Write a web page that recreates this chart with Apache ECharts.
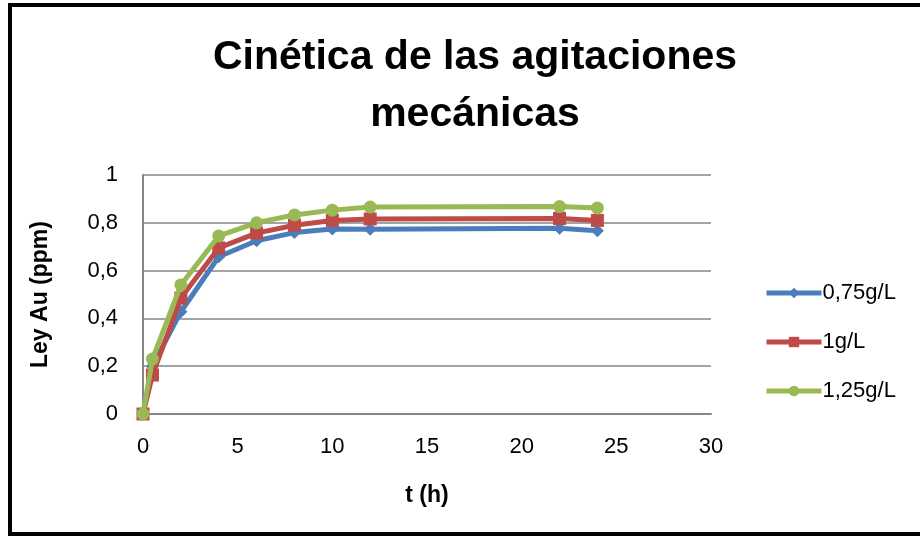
<!DOCTYPE html>
<html>
<head>
<meta charset="utf-8">
<script src="https://cdn.jsdelivr.net/npm/echarts@6/dist/echarts.min.js"></script>
<style>
  html, body { margin: 0; padding: 0; background: #fff; }
  #chart { width: 920px; height: 536px; }
</style>
</head>
<body>
<div id="chart"></div>
<script>
// Sampling times (h)
const tiempos = [0, 0.5, 2, 4, 6, 8, 10, 12, 22, 24];
// Gold grade (ppm) for each cyanide dosage
const ley075 = [0, 0.20, 0.428, 0.658, 0.725, 0.759, 0.774, 0.773, 0.777, 0.767];
const ley100 = [0, 0.163, 0.485, 0.695, 0.757, 0.79, 0.81, 0.816, 0.818, 0.81];
const ley125 = [0, 0.23, 0.54, 0.745, 0.80, 0.833, 0.853, 0.866, 0.868, 0.862];
const nombres = ['0,75g/L', '1g/L', '1,25g/L'];

const FONT = 'Liberation Sans';
const pares = (ys) => tiempos.map((t, i) => [t, ys[i]]);
const coma = (v) => String(v).replace('.', ',');

const chart = echarts.init(document.getElementById('chart'), null, { renderer: 'canvas' });

chart.setOption({
  animation: false,
  backgroundColor: '#fff',
  textStyle: { fontFamily: FONT },
  graphic: [{
    type: 'rect',
    shape: { x: 10, y: 5, width: 940, height: 529 },
    style: { fill: 'none', stroke: '#000', lineWidth: 4 },
    silent: true
  }],
  title: {
    text: 'Cinética de las agitaciones\nmecánicas',
    left: 470,
    top: 24,
    textAlign: 'center',
    textStyle: { fontFamily: FONT, fontSize: 41, fontWeight: 'bold', color: '#000', lineHeight: 57 }
  },
  legend: {
    orient: 'vertical',
    left: 759,
    top: 277,
    itemWidth: 55,
    itemHeight: 13,
    itemGap: 27,
    lineStyle: { width: 5 },
    textStyle: { fontFamily: FONT, fontSize: 22, color: '#000', padding: [0, 0, 0, -4] },
    data: nombres
  },
  grid: { left: 143, right: 209, top: 175, bottom: 122, containLabel: false },
  xAxis: {
    type: 'value',
    min: 0, max: 30, interval: 5,
    name: 't (h)',
    nameLocation: 'middle',
    nameGap: 70,
    nameTextStyle: { fontFamily: FONT, fontSize: 23, fontWeight: 'bold', color: '#000' },
    axisLine: { show: true, lineStyle: { color: '#868686', width: 2 } },
    axisTick: { show: false },
    splitLine: { show: false },
    axisLabel: { margin: 22, fontSize: 22, color: '#000', fontFamily: FONT }
  },
  yAxis: {
    type: 'value',
    min: 0, max: 1, interval: 0.2,
    name: 'Ley Au (ppm)',
    nameLocation: 'middle',
    nameGap: 91,
    nameTextStyle: { fontFamily: FONT, fontSize: 23, fontWeight: 'bold', color: '#000' },
    axisLine: { show: true, lineStyle: { color: '#868686', width: 2 } },
    axisTick: { show: false },
    splitLine: { show: true, lineStyle: { color: '#868686', width: 1.5 } },
    axisLabel: { margin: 25, fontSize: 22, color: '#000', fontFamily: FONT, formatter: coma }
  },
  series: [
    {
      name: nombres[0], type: 'line', data: pares(ley075),
      symbol: 'diamond', symbolSize: 13,
      lineStyle: { width: 5, color: '#4A7EBB' },
      itemStyle: { color: '#4A7EBB' }, z: 2
    },
    {
      name: nombres[1], type: 'line', data: pares(ley100),
      symbol: 'rect', symbolSize: 13,
      lineStyle: { width: 5, color: '#BE4B48' },
      itemStyle: { color: '#BE4B48' }, z: 3
    },
    {
      name: nombres[2], type: 'line', data: pares(ley125),
      symbol: 'circle', symbolSize: 13,
      lineStyle: { width: 5, color: '#98B954' },
      itemStyle: { color: '#98B954' }, z: 4
    }
  ]
});
</script>
</body>
</html>
